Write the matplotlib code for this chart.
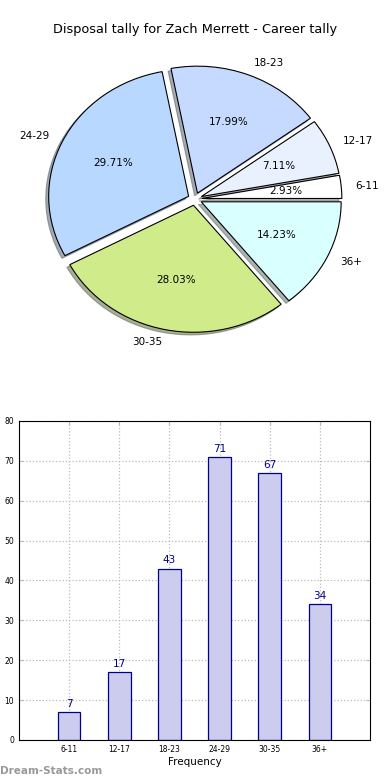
import matplotlib
matplotlib.use("Agg")
import matplotlib.pyplot as plt

groups = ['6-11', '12-17', '18-23', '24-29', '30-35', '36+']
counts = [7, 17, 43, 71, 67, 34]
slice_colors = ['#ffffff', '#e9f1ff', '#c6d9ff', '#b8d8ff', '#d0eb8a', '#d9ffff']
title = 'Disposal tally for Zach Merrett - Career tally'

fig = plt.figure(figsize=(3.9, 7.8), dpi=100)

# pie (old style, stretched into an ellipse)
ax1 = fig.add_axes([0.0513, 0.5413, 0.897, 0.407])
wedges, texts, autotexts = ax1.pie(counts, labels=groups, colors=slice_colors,
                                   explode=[0.05] * len(counts),
                                   shadow={'ox': -0.015, 'oy': -0.015, 'shade': 0.6},
                                   autopct='%1.2f%%', startangle=0,
                                   wedgeprops={'edgecolor': 'black', 'linewidth': 0.8},
                                   textprops={'fontsize': 7.5})
ax1.set_aspect('auto')
ax1.set_xlim(-1.25, 1.25)
ax1.set_ylim(-1.25, 1.25)
fig.text(0.5, 1 - 30 / 780, title, ha='center', va='center', fontsize=9.3)

# bars
ax2 = fig.add_axes([0.0487, 0.0513, 0.9, 0.409])
xs = range(1, len(counts) + 1)
ax2.bar(xs, counts, width=0.45, color='#ccccee', edgecolor='#000088', linewidth=0.9, zorder=2)
for x, c in zip(xs, counts):
    ax2.text(x, c + 0.8, str(c), ha='center', va='bottom', color='#000088', fontsize=7.5)
ax2.set_xlim(0, 7)
ax2.set_ylim(0, 80)
ax2.set_xticks(list(xs))
ax2.set_xticklabels(groups)
ax2.set_yticks(range(0, 81, 10))
ax2.tick_params(labelsize=5.5, direction='in', top=True, right=True, length=3, color='#bbbbbb')
ax2.grid(True, linestyle=':', color='#bbbbbb', linewidth=0.9, zorder=1)
ax2.set_xlabel('Frequency', fontsize=7.5, labelpad=2)

fig.text(0.0, 1 - 771 / 780, 'Dream-Stats.com', ha='left', va='center',
         fontsize=7.5, color='#999999', fontweight='bold')

fig.savefig('out.png', dpi=100)
